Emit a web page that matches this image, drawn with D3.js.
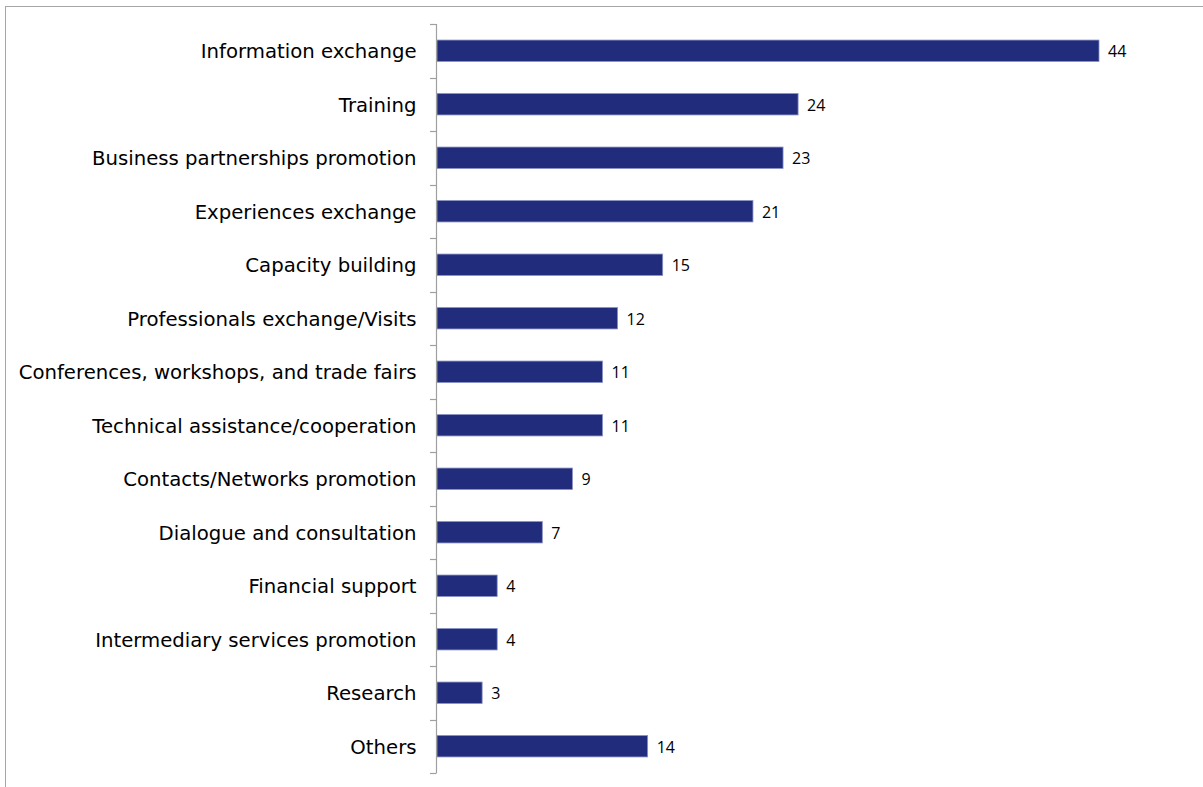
<!DOCTYPE html>
<html><head><meta charset="utf-8">
<script src="https://cdn.jsdelivr.net/npm/d3@7"></script>
<style>html,body{margin:0;padding:0;background:#fff;}svg{display:block;}</style>
</head><body>
<svg id="chart" width="1203" height="787"></svg>
<script>
const categories = ["Information exchange","Training","Business partnerships promotion","Experiences exchange","Capacity building","Professionals exchange/Visits","Conferences, workshops, and trade fairs","Technical assistance/cooperation","Contacts/Networks promotion","Dialogue and consultation","Financial support","Intermediary services promotion","Research","Others"];
const values = [44,24,23,21,15,12,11,11,9,7,4,4,3,14];

const svg = d3.select("#chart");
// outer frame
svg.append("rect").attr("x",5.5).attr("y",6.5).attr("width",1210).attr("height",800)
  .attr("fill","none").attr("stroke","#a6a6a6").attr("stroke-width",1);

const x0 = 437, xMaxPx = 1099;
const y = d3.scaleBand().domain(categories).range([24,773]).paddingInner(0.6).paddingOuter(0.3);
const x = d3.scaleLinear().domain([0,44]).range([x0,xMaxPx]);

// bars
svg.append("g").selectAll("rect").data(values).join("rect")
  .attr("x",x(0)).attr("y",(d,i)=>y(categories[i]))
  .attr("width",d=>x(d)-x(0)).attr("height",y.bandwidth())
  .attr("fill","#212c7c").attr("stroke","#8890c4").attr("stroke-width",0.8);

// value labels
svg.append("g").selectAll("text").data(values).join("text")
  .attr("x",d=>x(d)+9).attr("y",(d,i)=>y(categories[i])+y.bandwidth()/2+1)
  .attr("dy","0.35em").attr("font-family","'Open Sans', sans-serif").attr("font-size",16)
  .attr("fill","#000").text(d=>d);

// category axis
const yAxis = d3.axisLeft(y).tickSize(0).tickPadding(20);
const ga = svg.append("g").attr("transform",`translate(${x0-0.5},1)`).call(yAxis);
ga.select(".domain").remove();
ga.selectAll("text").attr("font-family","'DejaVu Sans', Verdana, sans-serif").attr("font-size",19.7).attr("fill","#000");

// axis line + boundary ticks
const boundaries = d3.range(categories.length+1).map(i=>24 + i*(749/categories.length));
svg.append("line").attr("x1",x0-0.5).attr("x2",x0-0.5).attr("y1",24).attr("y2",773)
  .attr("stroke","#a0a0a0").attr("stroke-width",1.2);
svg.append("g").selectAll("line").data(boundaries).join("line")
  .attr("x1",x0-7).attr("x2",x0-0.5).attr("y1",d=>Math.round(d)+0.5).attr("y2",d=>Math.round(d)+0.5)
  .attr("stroke","#a0a0a0").attr("stroke-width",1.2);
</script>
</body></html>
